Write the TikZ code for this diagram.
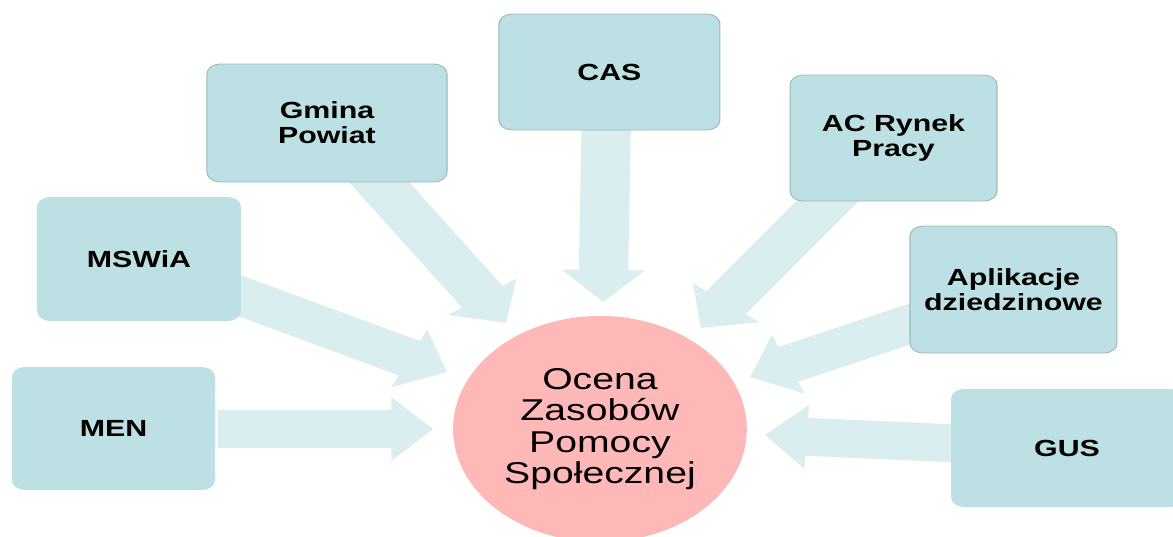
\documentclass[tikz,border=0pt]{standalone}
\usepackage{fontspec}
\setmainfont{Liberation Sans}
\usetikzlibrary{calc}
\definecolor{boxfill}{HTML}{BCE0E3}
\definecolor{boxline}{HTML}{9DB8BA}
\definecolor{arrowfill}{HTML}{DAEDEF}
\definecolor{circfill}{HTML}{FFB8B8}
\def\shaftw{14.25pt}
\def\headw{24pt}
\def\headl{24pt}
\newcommand\blockarrow[2]{%
  \coordinate (hb) at ($(#2)!\headl!(#1)$);
  \fill[arrowfill] ($(#1)!\shaftw!90:(#2)$) -- ($(hb)!\shaftw!90:(#2)$) -- ($(hb)!\headw!90:(#2)$) -- (#2)
    -- ($(hb)!\headw!-90:(#2)$) -- ($(hb)!\shaftw!-90:(#2)$) -- ($(#1)!\shaftw!-90:(#2)$) -- cycle;}
\begin{document}
\begin{tikzpicture}[x=0.75pt,y=-0.75pt,
  box/.style={rectangle, rounded corners=7.5pt, fill=boxfill, draw=boxline, line width=0.6pt,
    align=center, inner sep=0pt, font=\fontsize{17.5}{18.6}\selectfont\bfseries},
  plainbox/.style={box, draw=none},
  centre/.style={circle, fill=circfill, draw=none, minimum size=169.5pt, inner sep=0pt,
    align=center, font=\fontsize{22.6}{23.4}\selectfont}]
\useasboundingbox (0,0) rectangle (1173,536);
\clip (0,0) rectangle (1173,536);
\begin{scope}[transform canvas={xscale=1.3}]
  % arrow tails and tips
  \coordinate (t1) at (167.7,429);   \coordinate (p1) at (333.1,429);
  \coordinate (t2) at (168.9,288.4); \coordinate (p2) at (343.8,372);
  \coordinate (t3) at (280.1,165.6); \coordinate (p3) at (389.2,323);
  \coordinate (t4) at (466.3,125);   \coordinate (p4) at (463.8,302);
  \coordinate (t5) at (648.7,185.1); \coordinate (p5) at (539,328);
  \coordinate (t6) at (718.4,316.1); \coordinate (p6) at (577,377);
  \coordinate (t7) at (738.5,443.6); \coordinate (p7) at (588.5,435);
  \blockarrow{t1}{p1}
  \blockarrow{t2}{p2}
  \blockarrow{t3}{p3}
  \blockarrow{t4}{p4}
  \blockarrow{t5}{p5}
  \blockarrow{t6}{p6}
  \blockarrow{t7}{p7}
  \node[centre] (c) at (461.5,429) {Ocena\\Zasobów\\Pomocy\\Społecznej};
  \node[plainbox, minimum width=117.2pt, minimum height=92.25pt] (men) at (87.3,428.5) {MEN};
  \node[plainbox, minimum width=117.7pt, minimum height=93pt] (mswia) at (106.9,259) {MSWiA};
  \node[box, minimum width=138.5pt, minimum height=88.5pt] (gmina) at (251.5,123) {Gmina\\Powiat};
  \node[box, minimum width=127.5pt, minimum height=87pt] (cas) at (468.8,72) {CAS};
  \node[box, minimum width=119.4pt, minimum height=94.5pt] (ac) at (687.3,138) {AC Rynek\\Pracy};
  \node[box, minimum width=119.4pt, minimum height=95.25pt] (apl) at (779.6,289.5) {Aplikacje\\dziedzinowe};
  \node[plainbox, minimum width=133.9pt, minimum height=88.5pt] (gus) at (820.8,448) {GUS};
\end{scope}
\end{tikzpicture}
\end{document}
